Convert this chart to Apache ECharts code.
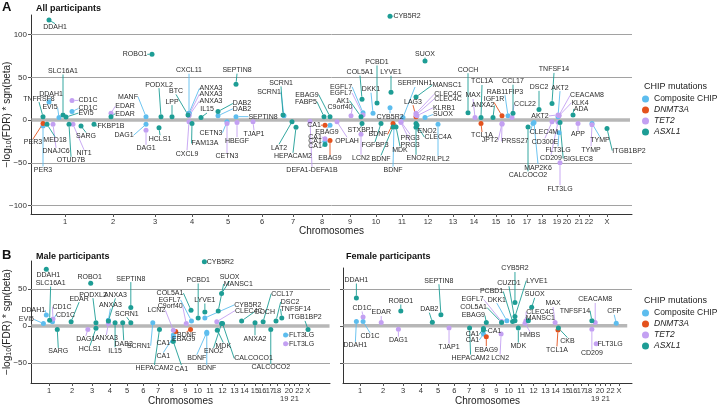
<!DOCTYPE html>
<html><head><meta charset="utf-8">
<script src="https://cdn.jsdelivr.net/npm/echarts@6/dist/echarts.min.js"></script>
<style>html,body{margin:0;padding:0;background:#fff}#c{width:720px;height:407px}</style>
</head><body><div id="c"></div>
<script>
// ---------------- data ----------------
const chrNames = ['1','2','3','4','5','6','7','8','9','10','11','12','13','14','15','16','17','18','19','20','21','22','X'];
const chrPos   = [34,82,124,161,197,231,262,291,319,345,371,397,422,443,465,480,496,511,526,536,548,558,576];
const groups = ['Composite CHIP','DNMT3A','TET2','ASXL1'];
const groupCode = {C:0, D:1, T:2, A:3};
const yTicksA = [-100,-50,0,50,100];
const yTicksB = [-50,0,50];
const refLinesA = [-100,-50,50,100];
const refLinesB = [-50,50];
const bandA = [0.5, 599];
const bandMale = [-3, 621];
const bandFemale = [-1, 593];

// rows: [protein, CHIP group, genomic position (axis units), -log10(FDR)*sgn(beta)]
const allRows = [
['DDAH1','A',18,117],['ROBO1','A',121,77],['SLC16A1','A',32,6],['DDAH1','C',18,21],['CD1C','T',41,23],['CD1C','C',41,10],['TNFRSF8','A',12,4],['EVI5','C',28,3],['EVI5','A',35,3.5],
['PER3','D',12,-4],['PER3','C',12,-7],['MED18','A',16,-5],['DNAJC6','T',22,-5],['NIT1','T',42,-5],['OTUD7B','A',38,-5],['SARG','A',50,-7],['FKBP1B','A',63,-5],
['MANF','C',115,4],['EDAR','T',80,8],['EDAR','A',80,4],['DAG1','C',115,-5],['DAG1','T',115,-12],['HCLS1','A',128,-9],
['PODXL2','A',130,4],['LPP','A',141,4],['CXCL11','C',158,8],['BTC','A',157,6],['ANXA3','C',158,8],['ANXA3','T',158,6],['ANXA3','T',158,5],['IL15','A',170,3],['CXCL9','T',158,-2],['FAM13A','A',161,-4],
['DAB2','A',187,10],['DAB2','C',187,5],['SEPTIN8','A',205,42],['SEPTIN8','C',205,4],['CETN3','C',196,-2],['CETN3','T',196,-4],['HBEGF','T',206,-3],['TJAP1','T',222,-2],
['SCRN1','A',252,6],['SCRN1','C',253,5],['LAT2','A',261,-2],['HEPACAM2','A',265,-8.5],['DEFA1-DEFA1B','T',279,-1.5],['EBAG9','A',299,4],['FABP5','A',293,4],
['COL5A1','A',331,24.5],['EGFL7','C',332,8.5],['EGFL7','T',332,6],['AK1','A',330,4],['C9orf40','T',320,5],
['CA1','D',294,-6],['EBAG9','C',299,-6],['CA1','T',294,-22],['CA1','C',294,-25],['CA1','A',294,-28.5],['EBAG9','D',299,-24],['OPLAH','T',306,-2],
['STXBP1','A',331,-4],['LCN2','T',330,-16.5],['FGFBP3','A',350,-4],['BDNF','D',362,-4],['BDNF','A',362,-8],['BDNF','C',363,-6],['MDK','A',365,-8],['PRG3','T',370,-2],['PRG3','T',370,-3],['ENO2','A',385,-4],['ENO2','A',385,-8.5],['CLEC4A','A',386,-6],['RILPL2','C',407,-5],
['PCBD1','A',346,20],['LYVE1','A',360,32.5],['DKK1','C',342,8],['CYB5R2','C',359,14.5],['SERPINH1','C',372,3],['MANSC1','A',385,27],['LAG3','D',385,4],['CLEC4C','T',385,8],['CLEC4C','T',385,6],['KLRB1','T',386,5],['SUOX','C',394,3],['SUOX','A',394,69],['CYB5R2','A',359,121.5],
['COCH','A',437,8.5],['TCL1A','A',450,3],['MAX','T',444,3],['ANXA2','A',462,3],['IGF1R','D',471,5],['RAB11FIP3','C',477,5],['CCL17','A',482,8],['CCL22','T',481,3],
['TNFSF14','A',521,19.5],['DSC2','A',508,12.5],['AKT2','C',527,4],['AKT2','T',527,6],['CEACAM8','T',528,5.5],['KLK4','T',528,5],['ADA','A',542,6],
['TCL1A','D',450,-4],['JPT2','T',471,-4],['PRSS27','T',471,-5],['CLEC4M','C',502,-4],['CALCOCO2','A',497,-8],['MAP2K6','C',503,-3],['CD300E','T',521,-2],['CD209','T',527,-2.5],['FLT3LG','C',528,-15],['FLT3LG','T',529,-50],['SIGLEC8','A',529,-3],['APP','T',547,-4],['TYMP','C',561,-4],['TYMP','T',561,-5.5],['ITGB1BP2','A',576,-10]
];
const maleRows = [
['DDAH1','A',28,77],['SLC16A1','A',35,8],['ROBO1','A',121,58],['SEPTIN8','A',205,25],['PODXL2','A',132,4.5],['ANXA3','A',158,7],['ANXA3','C',158,8],['ANXA3','T',158,3.5],
['DDAH1','C',28,15],['CD1C','T',42,9.5],['CD1C','C',41,6],['EVI5','C',22,3.5],['EDAR','A',80,6],['SARG','A',51,-4.5],['DAG1','T',115,-4.5],['HCLS1','A',132,-3],
['IL15','A',172,4.5],['DAB2','A',188,4.5],['SCRN1','A',205,4.5],['SCRN1','C',251,4.5],['LCN2','T',294,-5.5],['HEPACAM2','A',265,-4.5],['COL5A1','A',331,21.5],['EGFL7','C',332,7],['C9orf40','T',321,3.5],
['CA1','C',294,-12],['CA1','A',294,-21],['CA1','C',294,-15],['EBAG9','D',299,-7.5],['BDNF','D',330,-4.5],['BDNF','C',364,-8.5],['BDNF','C',364,-10],
['PCBD1','A',346,11],['LYVE1','A',360,19],['SUOX','A',395,44],['MANSC1','A',388,20.5],['CYB5R2','A',359,87],['CYB5R2','C',360,11],['CLEC4C','T',385,6],['COCH','A',437,7],
['MDK','A',386,-5.5],['ENO2','A',395,3.5],['CALCOCO1','A',397,3.5],['ANXA2','A',465,4.5],['CCL17','A',482,6],['DSC2','A',509,7],['TNFSF14','A',521,11],['ITGB1BP2','A',576,-4.5],['CALCOCO2','A',498,-4.5],['FLT3LG','C',529,-12],['FLT3LG','T',529,-24]
];
const femaleRows = [
['DDAH1','A',26,37.5],['DDAH1','C',26,6],['CD1C','T',40,12],['CD1C','C',40,6],['EDAR','T',78,4.5],['DAG1','T',114,-4.5],['ROBO1','A',119,20],['DAB2','A',185,5],['SEPTIN8','A',203,15],['TJAP1','T',220,-3],
['HEPACAM2','A',263,-3],['CA1','A',292,-5.5],['CA1','A',292,-3.5],['CA1','C',292,-11],['EBAG9','D',298,-14.5],['EBAG9','A',298,4.5],['LCN2','T',329,-11],['EGFL7','T',330,6],['COL5A1','A',330,4.5],
['PCBD1','A',353,6],['DKK1','C',341,7],['CUZD1','A',358,7],['CYB5R2','A',358,31.5],['LYVE1','A',358,12.5],['SUOX','A',393,25],['CLEC4C','T',381,7],['MANSC1','A',386,7],['MAX','T',442,4.5],
['MDK','A',365,-3],['HMBS','T',379,3.5],['TCL1A','D',448,-5.5],['CKB','A',449,-3],['TNFSF14','A',519,7],['CEACAM8','T',526,4.5],['CD209','T',519,-4.5],['FLT3LG','T',528,-24],['CFP','C',570,3.5]
];

// ---------------- label layout (pixel offsets of each label from its point; same order as rows) ----------------
const allLabelOffsets = [
[6,7],[-17,0],[0,-44],[2,-8],[16,0],[16,-3],[-4,-18],[-9,-10],[20,-4],
[-10,19],[0,44],[8,16],[3,27],[11,29],[2,36],[5,10],[17,2],
[-18,-20],[14,-7],[14,-3],[-22,11],[0,18],[1,11],
[-2,-32],[0,-15],[0,-43],[-12,-24],[22,-25],[22,-21],[22,-15],[6,-8],[-2,32],[13,20],
[24,-8],[24,-7],[1,-14],[27,0],[-16,11],[0,33],[0,18],[1,12],
[-2,-32],[-15,-24],[-13,26],[-3,29],[2,49],[-23,-22],[-18,-15],
[-2,-27],[-22,-26],[-22,-22],[-18,-16],[-11,-9],
[-11,0],[-3,7],[-10,-2],[-10,0],[-10,2],[0,18],[10,19],
[-1,7],[0,24],[-6,22],[-15,11],[-12,32],[-1,45],[4,23],[9,16],[9,22],[11,8],[0,31],[21,12],[0,35],
[0,-41],[0,-20],[-2,-24],[0,9],[12,-34],[31,-12],[-3,-15],[32,-19],[32,-16],[27,-8],[18,-3],[0,-7],[17,0],
[0,-43],[1,-36],[-2,-22],[-10,-12],[-8,-17],[-3,-24],[0,-32],[13,-13],
[2,-34],[0,-22],[2,-29],[-18,1],[28,-20],[21,-13],[8,-6],
[1,12],[-12,17],[13,17],[11,9],[0,48],[4,45],[-7,20],[-7,36],[-1,17],[0,26],[18,36],[0,11],[8,17],[-1,25],[22,22]
];
const maleLabelOffsets = [
[2,6],[1,-37],[-1,-6],[0,-29],[-3,-28],[7,-26],[2,-15],[-2,15],
[-13,-5],[9,-12],[13,-7],[-17,-4],[8,-23],[1,22],[-2,10],[-6,21],
[0,28],[1,21],[-4,-9],[-14,23],[-17,-20],[-5,39],[-21,-17],[-22,-21],[-16,-17],
[-10,8],[8,27],[-10,19],[8,7],[-4,6],[-10,26],[0,35],
[0,-38],[0,-12],[8,-16],[20,-27],[16,0],[43,-13],[32,-11],[23,-9],
[6,16],[-8,28],[31,35],[0,16],[19,-28],[14,-19],[14,-9],[-3,-12],[0,38],[16,0],[16,0]
];
const femaleLabelOffsets = [
[0,-18],[-1,24],[-1,-9],[7,15],[0,-10],[0,11],[0,-10],[-3,-13],[-2,-34],[0,19],
[1,30],[11,1],[-11,6],[-11,6],[0,13],[-13,-7],[-1,24],[-29,-22],[-28,-15],
[-21,-30],[-10,-21],[-6,-38],[0,-34],[22,-36],[3,-13],[14,-9],[12,-3],[-2,-19],
[0,18],[5,12],[-1,20],[9,13],[-17,-10],[0,-23],[0,24],[14,0],[-2,-12]
];

// ---------------- chart ----------------
const FONT = '"Liberation Sans", Arial, sans-serif';
const groupColors = ['#5dbdee','#e4521d','#c3a0f2','#1d9d95'];
const chart = echarts.init(document.getElementById('c'));
const minus = v => String(v).replace('-', '\u2212');

function xAxisCfg(gi, min, max, twoLine, gap) {
  return {
    type:'value', gridIndex:gi, min:min, max:max,
    name:'Chromosomes', nameLocation:'middle', nameGap:gap, nameMoveOverlap:false,
    nameTextStyle:{fontSize:10, color:'#222', fontFamily:FONT},
    axisLine:{show:true, onZero:false, lineStyle:{color:'#333', width:1}},
    axisTick:{show:true, customValues:chrPos, length:3, lineStyle:{color:'#555'}},
    axisLabel:{show:true, customValues:chrPos, fontSize:7.5, color:'#333', margin:4, lineHeight:8, fontFamily:FONT,
      formatter: v => { const n = chrNames[chrPos.indexOf(v)]; return (twoLine && (n === '19' || n === '21')) ? '\n' + n : n; }},
    splitLine:{show:false}
  };
}
function yAxisCfg(gi, min, max, ticks, showLabels, showName) {
  return {
    type:'value', gridIndex:gi, min:min, max:max,
    name: showName ? '\u2212log{sub|10}(FDR) * sgn(beta)' : '', nameLocation:'middle', nameGap:18, nameRotate:90, nameMoveOverlap:false,
    nameTextStyle:{fontSize:10, color:'#222', fontFamily:FONT, rich:{sub:{fontSize:7, padding:[5,0,0,0], fontFamily:FONT, color:'#222'}}},
    axisLine:{show:true, onZero:false, lineStyle:{color:'#333', width:1}},
    axisTick:{show:true, customValues:ticks, length:3, lineStyle:{color:'#555'}},
    axisLabel:{show:showLabels, customValues:ticks, fontSize:8, color:'#333', margin:4, fontFamily:FONT, formatter: v => minus(v)},
    splitLine:{show:false}
  };
}
function bandSeries(gi, ext, refs) {
  return {
    type:'line', xAxisIndex:gi, yAxisIndex:gi, data:[[ext[0],0],[ext[1],0]], symbol:'none', silent:true, z:2,
    lineStyle:{color:'#b7b7b7', width:3.5}, animation:false,
    markLine:{symbol:'none', silent:true, label:{show:false}, animation:false,
      lineStyle:{color:'#a2a2a2', width:1, type:'solid'}, data: refs.map(v => ({yAxis:v}))}
  };
}
function panelSeries(rows, offsets, gi) {
  return groups.map((gName, g) => {
    const data = [], offs = [];
    rows.forEach((r, i) => { if (groupCode[r[1]] === g) { data.push([r[2], r[3], r[0]]); offs.push(offsets[i] || [0,-8]); } });
    return {
      type:'scatter', name:gName, xAxisIndex:gi, yAxisIndex:gi, data:data, symbolSize:5, z:5, clip:false,
      itemStyle:{color:groupColors[g], opacity:1},
      label:{show:true, formatter: p => p.data[2], fontSize:7, color:'#2b2b2b', fontFamily:FONT},
      labelLine:{show:true, lineStyle:{color:groupColors[g], width:0.9, opacity:1}},
      labelLayout: p => { const o = offs[p.dataIndex]; return {x:p.rect.x + p.rect.width/2 + o[0], y:p.rect.y + p.rect.height/2 + o[1], align:'center', verticalAlign:'middle'}; },
      emphasis:{disabled:true}, animation:false
    };
  });
}
const legendFmt = n => n === 'Composite CHIP' ? n : '{i|' + n + '}';
const legendBase = {orient:'vertical', left:642, padding:0, icon:'circle', itemWidth:7, itemHeight:7, itemGap:1, data:groups, formatter:legendFmt, selectedMode:false,
  textStyle:{fontSize:8.5, color:'#222', fontFamily:FONT, lineHeight:10, rich:{i:{fontStyle:'italic', fontSize:8.5, fontFamily:FONT, color:'#222'}}}};

chart.setOption({
  animation:false,
  backgroundColor:'#fff',
  grid:[
    {left:31, top:15, width:601, height:199, outerBoundsMode:'none', containLabel:false},
    {left:31, top:261, width:299, height:122, outerBoundsMode:'none', containLabel:false},
    {left:343, top:268, width:289, height:115, outerBoundsMode:'none', containLabel:false}
  ],
  xAxis:[ xAxisCfg(0, 0, 601, false, 12), xAxisCfg(1, -4, 622, true, 13), xAxisCfg(2, -2, 603, true, 13) ],
  yAxis:[ yAxisCfg(0, -110, 123, yTicksA, true, true), yAxisCfg(1, -77, 88, yTicksB, true, true), yAxisCfg(2, -77, 78, yTicksB, false, false) ],
  legend:[ Object.assign({}, legendBase, {top:94}), Object.assign({}, legendBase, {top:308}) ],
  graphic:[
    {type:'text', left:2, top:1, style:{text:'A', font:'bold 13px ' + FONT, fill:'#111'}},
    {type:'text', left:36, top:4, style:{text:'All participants', font:'bold 9px ' + FONT, fill:'#111'}},
    {type:'text', left:2, top:249, style:{text:'B', font:'bold 13px ' + FONT, fill:'#111'}},
    {type:'text', left:36, top:252, style:{text:'Male participants', font:'bold 9px ' + FONT, fill:'#111'}},
    {type:'text', left:346, top:252, style:{text:'Female participants', font:'bold 9px ' + FONT, fill:'#111'}},
    {type:'text', left:644, top:82, style:{text:'CHIP mutations', font:'9px ' + FONT, fill:'#222'}},
    {type:'text', left:644, top:296, style:{text:'CHIP mutations', font:'9px ' + FONT, fill:'#222'}}
  ],
  series:[
    bandSeries(0, bandA, refLinesA), bandSeries(1, bandMale, refLinesB), bandSeries(2, bandFemale, refLinesB),
    ...panelSeries(allRows, allLabelOffsets, 0),
    ...panelSeries(maleRows, maleLabelOffsets, 1),
    ...panelSeries(femaleRows, femaleLabelOffsets, 2)
  ]
});
</script>
</body></html>
